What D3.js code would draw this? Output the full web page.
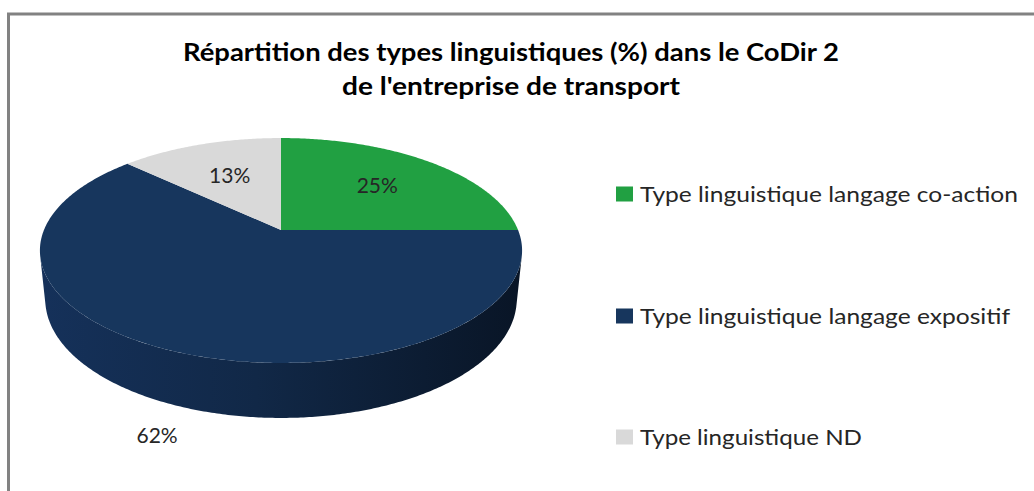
<!DOCTYPE html>
<html>
<head>
<meta charset="utf-8">
<script src="https://cdn.jsdelivr.net/npm/d3@7"></script>
<style>
  html, body { margin: 0; padding: 0; background: #fff; }
  svg { display: block; }
  text { font-family: Lato, "Open Sans", sans-serif; }
</style>
</head>
<body>
<svg id="chart" width="1034" height="491"></svg>
<script>
// Chart data
const titleLines = ["Répartition des types linguistiques (%) dans le CoDir 2", "de l'entreprise de transport"];
const categories = ["Type linguistique langage co-action", "Type linguistique langage expositif", "Type linguistique ND"];
const shares = [25, 62, 13];
const colors = ["#21a042", "#17365d", "#d9d9d9"];

const svg = d3.select("#chart");
const W = 1034, H = 491;

// Stretch a text element horizontally to the given width
function fitWidth(sel, w) {
  sel.attr("textLength", w).attr("lengthAdjust", "spacingAndGlyphs");
}

// Outer frame
svg.append("rect")
  .attr("x", 8.5).attr("y", 14).attr("width", W + 20).attr("height", H + 20)
  .attr("fill", "#fff").attr("stroke", "#828282").attr("stroke-width", 3);

// Title
const titleW = [656, 338];
titleLines.forEach((t, i) => {
  svg.append("text")
    .attr("x", 511).attr("y", 61 + i * 34)
    .attr("text-anchor", "middle")
    .attr("font-weight", "bold")
    .attr("font-size", 24)
    .attr("fill", "#000")
    .text(t)
    .call(fitWidth, titleW[i]);
});

// 3D pie: a disk of unit radius seen through a perspective camera
const cx = 281, cy = 230;       // screen position of the pie centre
const tilt = 27.3 * Math.PI / 180;
const sinT = Math.sin(tilt), cosT = Math.cos(tilt);
const dist = 4.875;             // camera distance in disk radii
const focal = 1155.6;           // focal length in pixels
const thick = 0.233;            // disk thickness in disk radii

// angle a: clockwise from the back (12 o'clock), h: height (0 = top face)
function project(a, h, r = 1) {
  const x = r * Math.sin(a), z = -r * Math.cos(a), y = h;
  const depth = dist - (y * sinT + z * cosT);
  const yc = y * cosT - z * sinT;
  return [cx + focal * x / depth, cy - focal * yc / depth];
}

const pie = d3.pie().sort(null).value(d => d)(shares);
const line = d3.line();
const arcPts = (a0, a1, h) => {
  const n = Math.max(2, Math.ceil(Math.abs(a1 - a0) / 0.01));
  return d3.range(n + 1).map(i => project(a0 + (a1 - a0) * i / n, h));
};

// Side wall shading
const defs = svg.append("defs");
const grad = defs.append("linearGradient").attr("id", "wall")
  .attr("gradientUnits", "userSpaceOnUse")
  .attr("x1", 40).attr("x2", 522).attr("y1", 0).attr("y2", 0);
grad.append("stop").attr("offset", 0).attr("stop-color", "#15315a");
grad.append("stop").attr("offset", 0.45).attr("stop-color", "#112847");
grad.append("stop").attr("offset", 1).attr("stop-color", "#091526");

// Visible part of the outer wall: faces the camera when -cos(a) > 1/(dist*cosT)
const zLim = 1 / (dist * cosT);
const visLo = Math.acos(-zLim), visHi = 2 * Math.PI - Math.acos(-zLim);

const shade = ["#177a31", "url(#wall)", "#a8a8a8"];
pie.forEach((p, i) => {
  const lo = Math.max(p.startAngle, visLo), hi = Math.min(p.endAngle, visHi);
  if (hi <= lo) return;
  const pts = arcPts(lo, hi, 0).concat(arcPts(hi, lo, -thick));
  svg.append("path").attr("d", line(pts) + "Z").attr("fill", shade[i]);
});

// Top faces
pie.forEach((p, i) => {
  const pts = [project(0, 0, 0)].concat(arcPts(p.startAngle, p.endAngle, 0));
  svg.append("path").attr("d", line(pts) + "Z").attr("fill", colors[i]);
});

// Data labels
const labelR = [0.62, 0, 0.6];
pie.forEach((p, i) => {
  const mid = (p.startAngle + p.endAngle) / 2;
  let pos;
  if (labelR[i] > 0) pos = project(mid, 0, labelR[i]);
  else { pos = project(mid, -thick, 1.2); pos = [pos[0] + 4, pos[1] - 3]; }
  svg.append("text")
    .attr("x", pos[0]).attr("y", pos[1]).attr("dy", "0.36em")
    .attr("text-anchor", "middle").attr("font-size", 21)
    .attr("fill", "#262626")
    .text(shares[i] + "%");
});

// Legend
const legY = [194, 316, 437];
const legW = [378, 370, 222];
categories.forEach((c, i) => {
  svg.append("rect").attr("x", 616).attr("y", legY[i] - 7.5)
    .attr("width", 17).attr("height", 15).attr("fill", colors[i]);
  svg.append("text").attr("x", 640).attr("y", legY[i]).attr("dy", "0.36em")
    .attr("font-size", 22).attr("fill", "#262626").text(c)
    .call(fitWidth, legW[i]);
});
</script>
</body>
</html>
